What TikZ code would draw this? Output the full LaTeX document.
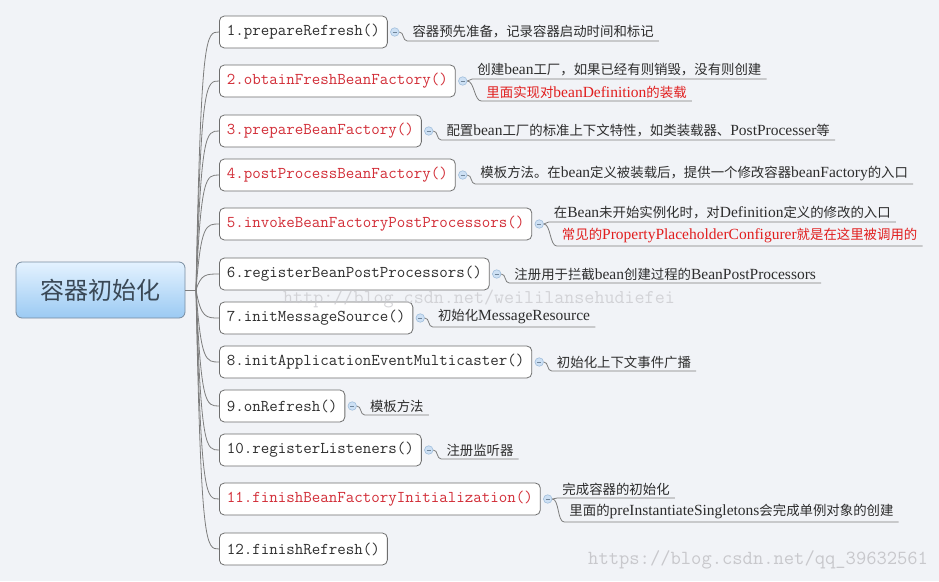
\documentclass[tikz,border=0pt]{standalone}
\usepackage{fontspec}
\usetikzlibrary{calc}
\newfontfamily\cjk{Noto Sans CJK SC}
\newfontfamily\latser{Liberation Serif}
\newcommand\enx[1]{{\latser\fontsize{15.5}{16}\selectfont #1}}
\definecolor{bgc}{RGB}{241,243,247}
\definecolor{boxline}{RGB}{110,110,110}
\definecolor{linegray}{RGB}{125,125,125}
\definecolor{txt}{RGB}{45,45,45}
\definecolor{mred}{RGB}{210,45,55}
\definecolor{nred}{RGB}{225,30,30}
\definecolor{knobfill}{RGB}{205,224,244}
\definecolor{knobline}{RGB}{160,190,220}
\definecolor{rootline}{RGB}{120,140,160}
\definecolor{roottop}{RGB}{228,242,255}
\definecolor{rootbot}{RGB}{155,202,243}
\definecolor{roottxt}{RGB}{58,72,86}
\definecolor{wmark}{RGB}{200,200,204}
\begin{document}
\begin{tikzpicture}[x=1pt,y=-1pt,
  mbox/.style={draw=boxline, line width=0.8pt, fill=white, rounded corners=5pt,
    minimum height=32pt, inner xsep=7.5pt, anchor=west, text=txt,
    font=\ttfamily\fontsize{16.5}{18}\selectfont},
  hot/.style={text=mred},
  knob/.style={circle, draw=knobline, fill=knobfill, line width=0.6pt,
    minimum size=8.5pt, inner sep=0pt,
    path picture={\draw[knobline!70!black, line width=0.6pt]
      ([xshift=-2.2pt]path picture bounding box.center) --
      ([xshift=2.2pt]path picture bounding box.center);}},
  note/.style={anchor=south west, inner xsep=5pt, inner ysep=2.5pt, text=txt,
    font=\cjk\fontsize{13.4}{15}\selectfont},
  hotnote/.style={note, text=nred},
  conn/.style={draw=linegray, line width=0.8pt},
  wm/.style={text=wmark, font=\ttfamily\fontsize{19.5}{21}\selectfont, inner sep=0pt}
]
\fill[bgc] (0,0) rectangle (939,581);
\useasboundingbox (0,0) rectangle (939,581);

% root
\node[draw=rootline, line width=0.8pt, rounded corners=6pt,
  top color=roottop, bottom color=rootbot,
  minimum width=169pt, minimum height=56pt, text=roottxt,
  font=\cjk\fontsize{24}{26}\selectfont] (root) at (100.5,290) {容器初始化};
\coordinate (hub) at (196,290);

% method boxes
\node[mbox] (m1) at (219,32) {1.prepareRefresh()};
\node[mbox,hot] (m2) at (219,81) {2.obtainFreshBeanFactory()};
\node[mbox,hot] (m3) at (219,131) {3.prepareBeanFactory()};
\node[mbox,hot] (m4) at (219,175) {4.postProcessBeanFactory()};
\node[mbox,hot] (m5) at (219,224) {5.invokeBeanFactoryPostProcessors()};
\node[mbox] (m6) at (219,274) {6.registerBeanPostProcessors()};
\node[mbox] (m7) at (219,318) {7.initMessageSource()};
\node[mbox] (m8) at (219,362) {8.initApplicationEventMulticaster()};
\node[mbox] (m9) at (219,406) {9.onRefresh()};
\node[mbox] (m10) at (219,450) {10.registerListeners()};
\node[mbox,hot] (m11) at (219,499) {11.finishBeanFactoryInitialization()};
\node[mbox] (m12) at (219,549) {12.finishRefresh()};

% root connectors
\draw[conn] (root.east) -- (hub);
\foreach \i in {1,...,12}{
  \draw[conn] (hub) .. controls ($(hub |- m\i.west)+(5,0)$) and ($(hub |- m\i.west)+(10,0)$) .. (m\i.west);
}

% knobs
\foreach \i in {1,...,11}{
  \node[knob] (c\i) at ($(m\i.east)+(7,0)$) {};
}

% notes
\node[note] (a1) at ($(c1.east)+(8,9)$) {容器预先准备，记录容器启动时间和标记};
\node[note] (a2a) at ($(c2.east)+(5,-2)$) {创建\enx{bean}工厂，如果已经有则销毁，没有则创建};
\node[hotnote] (a2b) at ($(c2.east)+(14,20)$) {里面实现对\enx{beanDefinition}的装载};
\node[note] (a3) at ($(c3.east)+(8,9)$) {配置\enx{bean}工厂的标准上下文特性，如类装载器、\enx{PostProcesser}等};
\node[note] (a4) at ($(c4.east)+(8,9)$) {模板方法。在\enx{bean}定义被装载后，提供一个修改容器\enx{beanFactory}的入口};
\node[note] (a5a) at ($(c5.east)+(5,-2)$) {在\enx{Bean}未开始实例化时，对\enx{Definition}定义的修改的入口};
\node[hotnote] (a5b) at ($(c5.east)+(13,22)$) {常见的\enx{PropertyPlaceholderConfigurer}就是在这里被调用的};
\node[note] (a6) at ($(c6.east)+(8,9)$) {注册用于拦截\enx{bean}创建过程的\enx{BeanPostProcessors}};
\node[note] (a7) at ($(c7.east)+(8,9)$) {初始化\enx{MessageResource}};
\node[note] (a8) at ($(c8.east)+(8,9)$) {初始化上下文事件广播};
\node[note] (a9) at ($(c9.east)+(8,9)$) {模板方法};
\node[note] (a10) at ($(c10.east)+(8,9)$) {注册监听器};
\node[note] (a11a) at ($(c11.east)+(5,-1)$) {完成容器的初始化};
\node[note] (a11b) at ($(c11.east)+(12,23)$) {里面的\enx{preInstantiateSingletons}会完成单例对象的创建};

% note connectors
\foreach \n/\c/\s in {a1/c1/5,a3/c3/5,a4/c4/5,a6/c6/5,a7/c7/5,a8/c8/5,a9/c9/5,a10/c10/5,
  a2b/c2/7,a5b/c5/7,a11b/c11/7}{
  \draw[conn] (\c.east) .. controls +(\s,0) and +(-\s,0) .. (\n.south west) -- (\n.south east);
}
\foreach \n/\c in {a2a/c2,a5a/c5,a11a/c11}{
  \draw[conn] (\c.east) .. controls +(2,0) and +(-2,0) .. (\n.south west) -- (\n.south east);
}

% watermarks
\node[wm, anchor=west, opacity=0.75] (w1) at (283,299) {http://blog.csdn.net/weililansehudiefei};
\node[wm, anchor=west, font=\ttfamily\fontsize{20}{21}\selectfont] (w2) at (588,560) {https://blog.csdn.net/qq\_39632561};
\end{tikzpicture}
\end{document}
